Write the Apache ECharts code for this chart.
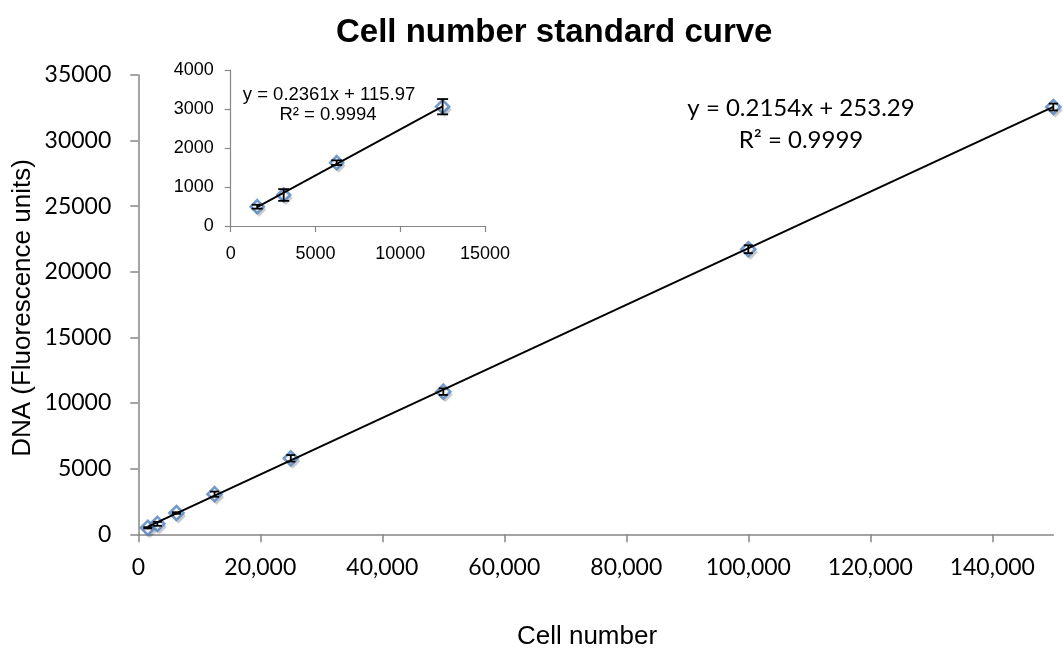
<!DOCTYPE html>
<html>
<head>
<meta charset="utf-8">
<script src="https://cdn.jsdelivr.net/npm/echarts@6/dist/echarts.min.js"></script>
<style>html,body{margin:0;padding:0;background:#fff}#c{width:1063px;height:657px}</style>
</head>
<body>
<div id="c"></div>
<script>
// ---- data ----
const cells = [1562.5, 3125, 6250, 12500, 25000, 50000, 100000, 150000];
const dna = [495, 795, 1623, 3059, 5790, 10870, 21723, 32560];
const dnaErr = [50, 150, 60, 196, 250, 250, 300, 260];
const insetCells = [1562.5, 3125, 6250, 12500];
const insetDna = [495, 795, 1623, 3059];
const insetErr = [50, 150, 60, 196];
const mainTrendX = [1562.5, 150000];
const mainTrendY = [590, 32564];
const insetTrendX = [1562.5, 12500];
const insetTrendY = [485, 3067];
const mainXTicks = [0, 20000, 40000, 60000, 80000, 100000, 120000, 140000];
const titleText = 'Cell number standard curve';
const xTitle = 'Cell number';
const yTitle = 'DNA (Fluorescence units)';
const mainEq = ['y = 0.2154x + 253.29', 'R² = 0.9999'];
const insetEq = ['y = 0.2361x + 115.97', 'R² = 0.9994'];

const ARIAL = '"Liberation Sans", Arial, sans-serif';
const CAL = 'Lato, "Open Sans", sans-serif';
const axisGray = '#868686';
const blue = '#4F81BD';

function fmtComma(v) {
  return String(v).replace(/\B(?=(\d{3})+(?!\d))/g, ',');
}
function fmtPlain(v) { return String(v); }
function zip(a, b, c) { return a.map((v, i) => c ? [v, b[i], c[i]] : [v, b[i]]); }

function errRenderer(cap, w) {
  return function (params, api) {
    const x = api.value(0), y = api.value(1), e = api.value(2);
    const t = api.coord([x, y + e]);
    const b = api.coord([x, y - e]);
    const st = { stroke: '#000', lineWidth: w };
    return {
      type: 'group',
      children: [
        { type: 'line', shape: { x1: t[0], y1: t[1], x2: b[0], y2: b[1] }, style: st },
        { type: 'line', shape: { x1: t[0] - cap / 2, y1: t[1], x2: t[0] + cap / 2, y2: t[1] }, style: st },
        { type: 'line', shape: { x1: b[0] - cap / 2, y1: b[1], x2: b[0] + cap / 2, y2: b[1] }, style: st }
      ]
    };
  };
}

const markerStyle = { color: '#ffffff', borderColor: blue, borderWidth: 2.6 };
const shadowStyle = { color: 'rgba(0,0,0,0.22)', shadowColor: 'rgba(0,0,0,0.3)', shadowBlur: 4 };

function markerSeries(xi, data, size) {
  return [
    { type: 'scatter', xAxisIndex: xi, yAxisIndex: xi, z: 1, silent: true,
      symbol: 'diamond', symbolSize: size + 1, symbolOffset: [2, 3],
      itemStyle: shadowStyle, data: data },
    { type: 'scatter', xAxisIndex: xi, yAxisIndex: xi, z: 2,
      symbol: 'diamond', symbolSize: size, itemStyle: markerStyle, data: data }
  ];
}

const chart = echarts.init(document.getElementById('c'), null, { renderer: 'canvas' });
chart.setOption({
  animation: false,
  backgroundColor: '#fff',
  title: {
    text: titleText,
    left: 331,
    top: 11,
    textStyle: { fontFamily: ARIAL, fontWeight: 'bold', fontSize: 33, color: '#000' }
  },
  grid: [
    { left: 138.3, right: 9.7, top: 75, bottom: 122.7 },
    { left: 230.7, top: 70, width: 254.3, height: 156 }
  ],
  xAxis: [
    {
      gridIndex: 0, type: 'value', min: 0, max: 150000, interval: 20000,
      splitLine: { show: false },
      axisLine: { lineStyle: { color: axisGray, width: 1.5 } },
      axisTick: { length: 8, lineStyle: { color: axisGray, width: 1.5 }, customValues: mainXTicks },
      axisLabel: { customValues: mainXTicks, formatter: fmtComma, fontFamily: CAL, fontSize: 23, color: '#000', margin: 22 }
    },
    {
      gridIndex: 1, type: 'value', min: 0, max: 15000, interval: 5000,
      splitLine: { show: false },
      axisLine: { lineStyle: { color: axisGray, width: 1.2 } },
      axisTick: { length: 6, lineStyle: { color: axisGray, width: 1.2 } },
      axisLabel: { formatter: fmtPlain, fontFamily: ARIAL, fontSize: 18, color: '#000', margin: 19 }
    }
  ],
  yAxis: [
    {
      gridIndex: 0, type: 'value', min: 0, max: 35000, interval: 5000,
      splitLine: { show: false },
      axisLine: { show: true, lineStyle: { color: axisGray, width: 1.5 } },
      axisTick: { show: true, length: 8, lineStyle: { color: axisGray, width: 1.5 } },
      axisLabel: { formatter: fmtPlain, fontFamily: CAL, fontSize: 23, color: '#000', margin: 27 }
    },
    {
      gridIndex: 1, type: 'value', min: 0, max: 4000, interval: 1000,
      splitLine: { show: false },
      axisLine: { show: true, lineStyle: { color: axisGray, width: 1.2 } },
      axisTick: { show: true, length: 6, lineStyle: { color: axisGray, width: 1.2 } },
      axisLabel: { formatter: fmtPlain, fontFamily: ARIAL, fontSize: 18, color: '#000', margin: 17 }
    }
  ],
  series: [
    ...markerSeries(0, zip(cells, dna), 14),
    {
      type: 'line', xAxisIndex: 0, yAxisIndex: 0, z: 3,
      showSymbol: false, symbol: 'none',
      lineStyle: { color: '#000', width: 2 },
      data: zip(mainTrendX, mainTrendY)
    },
    {
      type: 'custom', xAxisIndex: 0, yAxisIndex: 0, z: 4,
      renderItem: errRenderer(9, 1.8),
      encode: { x: 0, y: 1 },
      data: zip(cells, dna, dnaErr)
    },
    ...markerSeries(1, zip(insetCells, insetDna), 13),
    {
      type: 'line', xAxisIndex: 1, yAxisIndex: 1, z: 3,
      showSymbol: false, symbol: 'none',
      lineStyle: { color: '#000', width: 1.8 },
      data: zip(insetTrendX, insetTrendY)
    },
    {
      type: 'custom', xAxisIndex: 1, yAxisIndex: 1, z: 4,
      renderItem: errRenderer(11, 1.8),
      encode: { x: 0, y: 1 },
      data: zip(insetCells, insetDna, insetErr)
    }
  ],
  graphic: [
    { type: 'text', x: 587, y: 637, style: { text: xTitle, font: '26px ' + ARIAL, fill: '#000', textAlign: 'center', textVerticalAlign: 'middle' } },
    { type: 'text', x: 23, y: 308, rotation: Math.PI / 2, style: { text: yTitle, font: '26px ' + ARIAL, fill: '#000', textAlign: 'center', textVerticalAlign: 'middle' } },
    { type: 'text', x: 801, y: 108, style: { text: mainEq[0], font: '24px ' + CAL, fill: '#000', textAlign: 'center', textVerticalAlign: 'middle' } },
    { type: 'text', x: 801, y: 140, style: { text: mainEq[1], font: '24px ' + CAL, fill: '#000', textAlign: 'center', textVerticalAlign: 'middle' } },
    { type: 'text', x: 329, y: 95, style: { text: insetEq[0], font: '18.5px ' + ARIAL, fill: '#000', textAlign: 'center', textVerticalAlign: 'middle' } },
    { type: 'text', x: 328, y: 115, style: { text: insetEq[1], font: '18.5px ' + ARIAL, fill: '#000', textAlign: 'center', textVerticalAlign: 'middle' } }
  ]
});
</script>
</body>
</html>
